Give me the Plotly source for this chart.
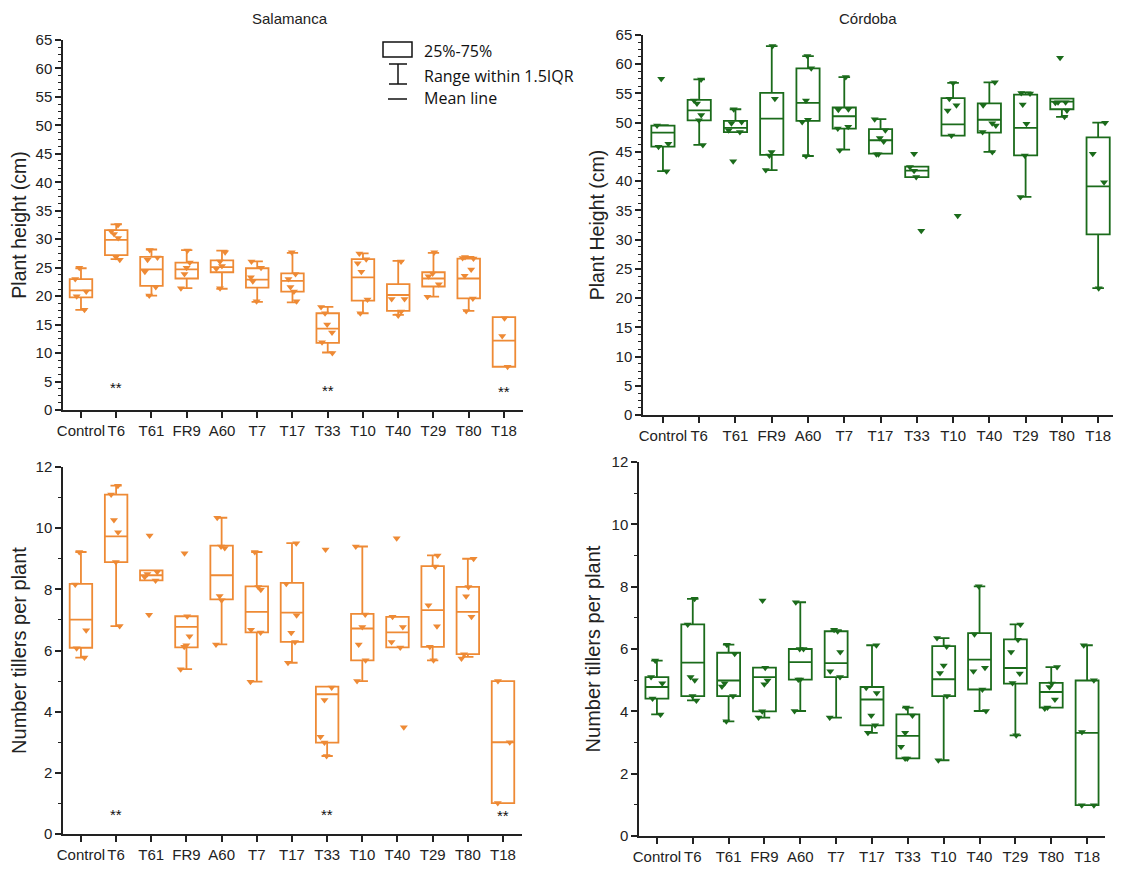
import plotly.graph_objects as go

categories = ["Control", "T6", "T61", "FR9", "A60", "T7", "T17", "T33", "T10", "T40", "T29", "T80", "T18"]

# ---- Salamanca, plant height (cm)
sal_h_q1 = [19.8, 27.2, 21.8, 23.1, 24.2, 21.5, 20.8, 11.8, 19.2, 17.4, 21.7, 19.6, 7.6]
sal_h_q3 = [23.0, 31.6, 26.9, 25.9, 26.3, 24.9, 24.0, 17.0, 26.5, 22.1, 24.2, 26.6, 16.3]
sal_h_mean = [21.0, 29.9, 24.7, 24.7, 25.1, 22.9, 22.7, 14.3, 23.3, 20.2, 23.1, 23.1, 12.2]
sal_h_lo = [17.6, 26.5, 20.1, 21.4, 21.3, 19.0, 18.9, 10.1, 17.0, 16.7, 19.9, 17.4, 7.6]
sal_h_hi = [24.9, 32.6, 28.2, 28.1, 28.0, 26.1, 27.6, 18.1, 27.5, 26.2, 27.6, 26.9, 16.3]
sal_h_points = [
    [25.0, 23.0, 20.8, 20.0, 17.6],
    [32.5, 31.4, 30.9, 30.2, 26.9, 26.4],
    [28.1, 26.8, 26.4, 24.3, 21.6, 20.1],
    [28.0, 25.9, 25.0, 23.9, 21.4],
    [27.7, 26.1, 25.3, 24.8, 21.4],
    [26.1, 25.0, 23.3, 22.6, 19.1],
    [27.7, 23.9, 23.0, 21.6, 20.8, 19.1],
    [18.1, 17.0, 15.0, 13.6, 11.9, 10.0],
    [27.5, 26.5, 25.8, 24.3, 19.4, 17.0],
    [26.1, 19.5, 19.5, 17.3, 16.6],
    [27.7, 24.0, 23.5, 22.1, 19.9],
    [26.9, 26.7, 26.6, 24.7, 23.6, 19.6, 17.4],
    [16.1, 13.0, 7.6],
]

# ---- Córdoba, plant height (cm)
cor_h_q1 = [45.9, 50.4, 48.4, 44.5, 50.3, 49.0, 44.7, 40.7, 47.8, 48.3, 44.4, 52.3, 30.9]
cor_h_q3 = [49.5, 53.9, 50.3, 55.1, 59.3, 52.6, 48.9, 42.5, 54.2, 53.3, 54.8, 54.1, 47.5]
cor_h_mean = [48.3, 52.1, 49.1, 50.7, 53.4, 51.1, 47.0, 41.8, 49.7, 50.5, 49.1, 53.6, 39.1]
cor_h_lo = [41.7, 46.2, 48.4, 41.9, 44.3, 45.4, 44.7, 40.7, 47.8, 45.0, 37.3, 51.0, 21.7]
cor_h_hi = [49.6, 57.4, 52.3, 63.1, 61.4, 57.8, 50.6, 42.5, 56.8, 56.9, 55.2, 54.1, 50.0]
cor_h_points = [
    [57.5, 49.5, 46.4, 45.9, 41.7],
    [57.4, 53.8, 53.3, 51.3, 50.4, 46.2],
    [52.3, 50.1, 49.9, 48.7, 48.4, 43.4],
    [63.1, 54.1, 45.0, 44.4, 41.9],
    [61.4, 59.3, 53.8, 50.5, 50.1, 44.3],
    [57.8, 52.3, 52.2, 49.3, 49.0, 45.3],
    [50.6, 48.7, 47.4, 46.8, 44.6, 44.6],
    [44.7, 42.4, 41.8, 40.7, 31.5],
    [56.8, 54.1, 53.0, 52.1, 47.8, 34.1],
    [56.9, 53.0, 49.9, 49.5, 48.4, 45.0],
    [55.1, 55.0, 53.1, 49.8, 44.4, 37.3],
    [61.1, 53.5, 53.5, 53.4, 52.1, 51.0],
    [50.0, 44.7, 39.8, 21.7],
]

# ---- Salamanca, tillers per plant
sal_t_q1 = [6.09, 8.89, 8.29, 6.10, 7.67, 6.59, 6.28, 2.99, 5.68, 6.10, 6.12, 5.88, 1.01]
sal_t_q3 = [8.18, 11.10, 8.62, 7.12, 9.43, 8.10, 8.21, 4.82, 7.20, 7.10, 8.76, 8.08, 5.00]
sal_t_mean = [7.01, 9.73, 8.46, 6.77, 8.46, 7.26, 7.24, 4.57, 6.72, 6.59, 7.32, 7.26, 3.00]
sal_t_lo = [5.77, 6.80, 8.29, 5.39, 6.20, 4.98, 5.60, 2.55, 5.00, 6.10, 5.68, 5.79, 1.01]
sal_t_hi = [9.22, 11.39, 8.62, 7.12, 10.34, 9.22, 9.51, 4.82, 9.40, 7.10, 9.11, 9.00, 5.00]
sal_t_points = [
    [9.22, 8.16, 6.66, 6.07, 5.77],
    [11.39, 11.10, 10.27, 9.87, 8.89, 6.80],
    [9.76, 8.57, 8.50, 8.40, 8.29, 7.17],
    [9.18, 7.12, 6.47, 6.17, 6.12, 5.39],
    [10.34, 9.40, 9.35, 7.78, 7.64, 6.20],
    [9.22, 8.08, 7.99, 6.68, 6.59, 4.98],
    [9.51, 8.18, 7.15, 6.58, 6.28, 5.60],
    [9.30, 4.79, 4.38, 3.18, 2.99, 2.55],
    [9.40, 7.18, 6.77, 6.20, 5.68, 5.00],
    [9.67, 7.10, 6.77, 6.28, 6.10, 3.49],
    [9.11, 8.75, 7.48, 6.79, 6.12, 5.68],
    [9.00, 8.08, 7.77, 7.10, 5.88, 5.74],
    [5.00, 3.00, 1.01],
]

# ---- Córdoba, tillers per plant
cor_t_q1 = [4.41, 4.49, 4.49, 4.00, 5.02, 5.10, 3.55, 2.49, 4.49, 4.70, 4.89, 4.12, 0.99]
cor_t_q3 = [5.10, 6.79, 5.88, 5.40, 6.00, 6.57, 4.78, 3.90, 6.09, 6.51, 6.31, 4.91, 4.99]
cor_t_mean = [4.78, 5.56, 4.99, 5.10, 5.58, 5.55, 4.38, 3.21, 5.03, 5.66, 5.39, 4.62, 3.31]
cor_t_lo = [3.90, 4.35, 3.68, 3.80, 4.01, 3.80, 3.31, 2.49, 2.43, 4.01, 3.23, 4.12, 0.99]
cor_t_hi = [5.63, 7.61, 6.14, 5.40, 7.50, 6.60, 6.12, 4.12, 6.35, 8.01, 6.79, 5.42, 6.12]
cor_t_points = [
    [5.63, 5.10, 4.90, 4.41, 3.90],
    [7.61, 6.79, 5.10, 5.00, 4.49, 4.35],
    [6.14, 5.85, 4.90, 4.80, 4.49, 3.68],
    [7.56, 5.40, 4.99, 4.87, 4.00, 3.80],
    [7.50, 6.00, 6.00, 5.02, 5.02, 4.01],
    [6.62, 6.57, 5.90, 5.29, 5.10, 3.80],
    [6.12, 4.76, 4.59, 3.87, 3.55, 3.31],
    [4.12, 3.87, 3.31, 2.86, 2.49, 2.49],
    [6.35, 6.08, 5.47, 5.23, 4.49, 2.43],
    [8.01, 6.47, 5.40, 5.29, 4.70, 4.01],
    [6.79, 6.30, 5.90, 5.21, 4.91, 3.23],
    [5.42, 4.89, 4.78, 4.38, 4.12, 4.09],
    [6.12, 5.00, 3.34, 0.99, 0.99],
]

sig_categories = ["T6", "T33", "T18"]
sig_h_y = [3.9, 3.5, 3.2]
sig_t_y = [0.65, 0.65, 0.6]

ORANGE = "#EE8A35"
GREEN = "#1B6B1B"
AXIS = "#222222"
FONT = "Arial, Liberation Sans, sans-serif"
PAGE_OFF = 8                      # default body margin of the html page
W, H = 1121 - PAGE_OFF, 872 - PAGE_OFF

fig = go.Figure()


def add_panel(q1, mean, q3, lo, hi, points, color, xa, ya):
    fig.add_trace(go.Box(
        x=categories, q1=q1, median=mean, q3=q3, lowerfence=lo, upperfence=hi,
        boxpoints=False, line=dict(color=color, width=1.8), fillcolor="rgba(0,0,0,0)",
        whiskerwidth=0.5, width=0.64, xaxis=xa, yaxis=ya, showlegend=False, hoverinfo="skip"))
    xs, ys = [], []
    for c, vals in zip(categories, points):
        xs += [c] * len(vals)
        ys += vals
    fig.add_trace(go.Box(
        x=xs, y=ys, boxpoints="all", jitter=0.6, pointpos=0,
        marker=dict(symbol="triangle-down", size=7, color=color),
        line=dict(width=0, color="rgba(0,0,0,0)"), fillcolor="rgba(0,0,0,0)",
        width=0.64, xaxis=xa, yaxis=ya, showlegend=False, hoverinfo="y"))


add_panel(sal_h_q1, sal_h_mean, sal_h_q3, sal_h_lo, sal_h_hi, sal_h_points, ORANGE, "x", "y")
add_panel(cor_h_q1, cor_h_mean, cor_h_q3, cor_h_lo, cor_h_hi, cor_h_points, GREEN, "x2", "y2")
add_panel(sal_t_q1, sal_t_mean, sal_t_q3, sal_t_lo, sal_t_hi, sal_t_points, ORANGE, "x3", "y3")
add_panel(cor_t_q1, cor_t_mean, cor_t_q3, cor_t_lo, cor_t_hi, cor_t_points, GREEN, "x4", "y4")


def xaxis(domain, rng, anchor):
    return dict(domain=domain, range=rng, anchor=anchor, type="category", automargin=False,
                categoryorder="array", categoryarray=categories,
                showline=True, linecolor=AXIS, linewidth=1.5, mirror=False,
                ticks="outside", ticklen=6, tickwidth=1.5, tickcolor=AXIS,
                tickfont=dict(family=FONT, size=15, color=AXIS),
                showgrid=False, zeroline=False)


def yaxis(domain, rng, dtick, minor, title, anchor, size):
    return dict(domain=domain, range=rng, anchor=anchor, tick0=0, dtick=dtick, automargin=False,
                showline=True, linecolor=AXIS, linewidth=1.5,
                ticks="outside", ticklen=6, tickwidth=1.5, tickcolor=AXIS,
                minor=dict(dtick=minor, ticks="outside", ticklen=3, tickwidth=1, tickcolor=AXIS, showgrid=False),
                tickfont=dict(family=FONT, size=15, color=AXIS),
                title=dict(text=title, font=dict(family=FONT, size=size, color=AXIS), standoff=6),
                showgrid=False, zeroline=False)


def px(x):
    return (x - PAGE_OFF) / W


def py(y):
    return 1 - (y - PAGE_OFF) / H


fig.update_layout(
    width=W, height=H, margin=dict(l=0, r=0, t=0, b=0, autoexpand=False),
    paper_bgcolor="white", plot_bgcolor="white", boxmode="overlay",
    xaxis=xaxis([px(63), px(523)], [-0.51, 12.54], "y"),
    yaxis=yaxis([py(410), py(40)], [0, 65], 5, 1.25, "Plant height (cm)", "x", 19.5),
    xaxis2=xaxis([px(643), px(1117)], [-0.55, 12.52], "y2"),
    yaxis2=yaxis([py(415), py(35)], [0, 65], 5, 1.25, "Plant Height (cm)", "x2", 19.5),
    xaxis3=xaxis([px(63), px(522)], [-0.51, 12.54], "y3"),
    yaxis3=yaxis([py(834), py(467)], [0, 12], 2, 1, "Number tillers per plant", "x3", 20),
    xaxis4=xaxis([px(639), px(1105)], [-0.50, 12.5], "y4"),
    yaxis4=yaxis([py(836), py(462)], [0, 12], 2, 1, "Number tillers per plant", "x4", 20),
)

ann = []
ann.append(dict(text="Salamanca", x=px(290), y=1, xref="paper", yref="paper",
                xanchor="center", yanchor="top",
                showarrow=False, font=dict(family=FONT, size=15, color=AXIS)))
ann.append(dict(text="Córdoba", x=px(868), y=1, xref="paper", yref="paper",
                xanchor="center", yanchor="top",
                showarrow=False, font=dict(family=FONT, size=15, color=AXIS)))
for c, yv in zip(sig_categories, sig_h_y):
    ann.append(dict(text="**", x=c, y=yv, xref="x", yref="y", showarrow=False,
                    yanchor="middle", font=dict(family=FONT, size=15, color="#111")))
for c, yv in zip(sig_categories, sig_t_y):
    ann.append(dict(text="**", x=c, y=yv, xref="x3", yref="y3", showarrow=False,
                    yanchor="middle", font=dict(family=FONT, size=15, color="#111")))

# legend key (drawn in page coordinates)
leg_font = dict(family="Open Sans, Liberation Sans, sans-serif", size=16, color="#111")
for label, yy in [("25%-75%", 51), ("Range within 1.5IQR", 76), ("Mean line", 98)]:
    ann.append(dict(text=label, x=px(422), y=py(yy), xref="paper", yref="paper",
                    xanchor="left", yanchor="middle", showarrow=False, font=leg_font))
fig.update_layout(annotations=ann)

lk = dict(color="#111", width=1.5)
shapes = [
    dict(type="rect", xref="paper", yref="paper", x0=px(383), x1=px(412), y0=py(57), y1=py(42), line=lk),
    dict(type="line", xref="paper", yref="paper", x0=px(398), x1=px(398), y0=py(84), y1=py(64), line=lk),
    dict(type="line", xref="paper", yref="paper", x0=px(389), x1=px(407), y0=py(64), y1=py(64), line=lk),
    dict(type="line", xref="paper", yref="paper", x0=px(389), x1=px(407), y0=py(84), y1=py(84), line=lk),
    dict(type="line", xref="paper", yref="paper", x0=px(388), x1=px(407), y0=py(99), y1=py(99), line=lk),
]
fig.update_layout(shapes=shapes)

fig.write_html("out.html")
